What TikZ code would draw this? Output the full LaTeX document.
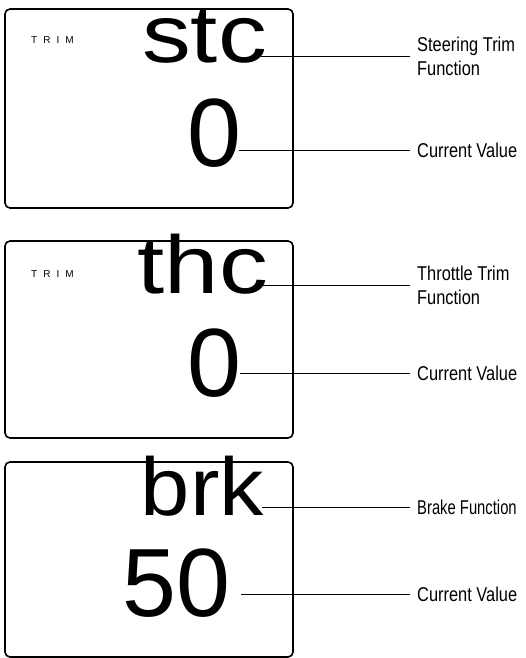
\documentclass[tikz,border=0pt]{standalone}
\usepackage{fontspec}
\setmainfont{Liberation Sans}
\newfontfamily\lcdwide[FakeStretch=1.19]{Liberation Sans}
\newfontfamily\lcdbrk[FakeStretch=1.08]{Liberation Sans}
\newfontfamily\lblnarrow[FakeStretch=0.82]{Liberation Sans}
\newfontfamily\lblsqueeze[FakeStretch=0.74]{Liberation Sans}
\newfontfamily\trimspaced[LetterSpace=60]{Liberation Sans}
\begin{document}
\begin{tikzpicture}[x=1pt,y=-1pt,
		screen/.style={line width=1.6pt,rounded corners=5pt},
		fn/.style={inner sep=0pt,anchor=base east,text height=55pt,text depth=0pt,font=\lcdwide\fontsize{82}{82}\selectfont},
		val/.style={inner sep=0pt,anchor=base east,font=\fontsize{97}{97}\selectfont},
		trimtxt/.style={inner sep=0pt,anchor=base west,font=\trimspaced\fontsize{10}{10}\selectfont},
		lbl/.style={anchor=west,inner xsep=7pt,inner ysep=0pt,align=left,font=\lblnarrow\fontsize{20}{24}\selectfont},
		leader/.style={line width=0.9pt}]
		\useasboundingbox (0,0) rectangle (525,658);
		% the three screens
		\draw [screen] (5,9) rectangle (293,208);
		\draw [screen] (5,241) rectangle (293,438);
		\draw [screen] (5,462) rectangle (293,657);
		\node [trimtxt] (trimA) at (31,44) {TRIM};
		\node [trimtxt] (trimB) at (31,277) {TRIM};
		% screen texts
		\node [fn] (stc) at (267,63) {stc};
		\node [val] (valA) at (242,166) {0};
		\node [fn] (thc) at (268,293) {thc};
		\node [val] (valB) at (242,396) {0};
		\node [fn,font=\lcdbrk\fontsize{82}{82}\selectfont] (brk) at (264,515) {brk};
		\node [val] (valC) at (231,616) {50};
		% callouts
		\node [lbl] (labA) at (410,56) {Steering Trim\\Function};
		\node [lbl] (labB) at (410,150) {Current Value};
		\node [lbl] (labC) at (410,285) {Throttle Trim\\Function};
		\node [lbl] (labD) at (410,373) {Current Value};
		\node [lbl,font=\lblsqueeze\fontsize{20}{24}\selectfont] (labE) at (410,507) {Brake Function};
		\node [lbl] (labF) at (410,594) {Current Value};
		\draw [leader] ([xshift=-6pt]stc.east |- labA.west) -- (labA.west);
		\draw [leader] ([xshift=-3pt]valA.east |- labB.west) -- (labB.west);
		\draw [leader] ([xshift=-5pt]thc.east |- labC.west) -- (labC.west);
		\draw [leader] ([xshift=-2pt]valB.east |- labD.west) -- (labD.west);
		\draw [leader] ([xshift=-2pt]brk.east |- labE.west) -- (labE.west);
		\draw [leader] ([xshift=10pt]valC.east |- labF.west) -- (labF.west);
	\end{tikzpicture}
\end{document}
